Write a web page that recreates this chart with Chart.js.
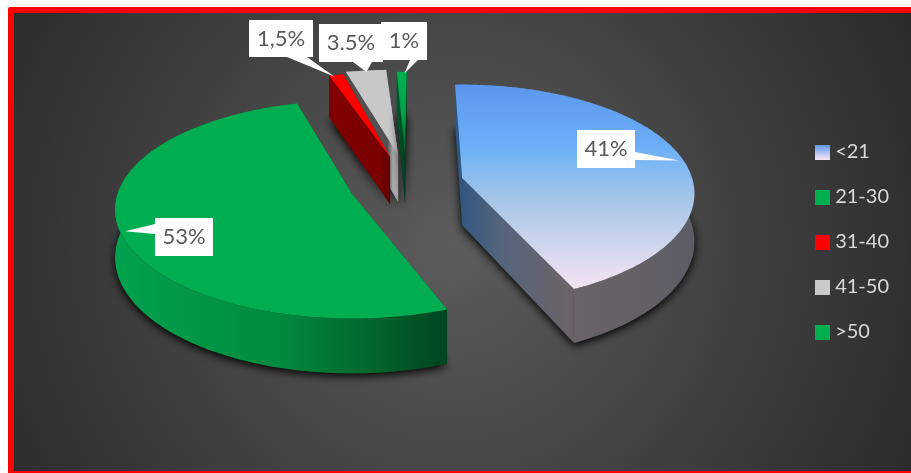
<!DOCTYPE html>
<html>
<head>
<meta charset="utf-8">
<script src="https://cdn.jsdelivr.net/npm/chart.js@4"></script>
<style>
    html, body { margin: 0; padding: 0; background: #fff; overflow: hidden; }
    #frame {
        position: absolute; left: 8px; top: 7px; width: 960px; height: 470px;
        box-sizing: border-box; border: 6px solid #ff0000; border-radius: 2px;
        background: radial-gradient(circle 520px at 437px 235px, #5c5c5c 0%, #2a2a2a 100%);
    }
    #chart-ages { position: absolute; left: 0; top: 0; }
</style>
</head>
<body>
<div id="frame"></div>
<canvas id="chart-ages" width="911" height="473"></canvas>
<script>
const ageGroups = ['<21', '21-30', '31-40', '41-50', '>50'];
const shares = [41, 53, 1.5, 3.5, 1];
const shareLabels = ['41%', '53%', '1,5%', '3.5%', '1%'];

// tilt of the pie plane
const PERSPECTIVE = 0.14;
const SCALE_X = 0.99;
const SCALE_Y = 0.455;
const THICKNESS = 47;
const WARP_COS = 7.5;
const WARP_SIN = -8.35;

// explode distance of each slice from the pie centre, its size and small turn
const explode = [[65, -64], [-45, -48], [-7, -85], [1, -87], [8, -85]];
const sliceScale = [[1.01, 1.02], [1.03, 1.02], [0.92, 0.92], [1.1, 0.92], [0.92, 0.92]];
const sliceTurn = [-2, 2.5, -1, 0, 0.5];
const drawOrder = [3, 2, 4, 0, 1];

const topColors = [
    [[0, '#5b97ee'], [0.31, '#6cb0f7'], [0.56, '#a5c6e8'], [1, '#f6e4f2']],
    [[0, '#00ad50'], [1, '#00ad50']],
    [[0, '#ff0000'], [1, '#ff0000']],
    [[0, '#c8c8c8'], [1, '#c8c8c8']],
    [[0, '#00b050'], [0.5, '#00a048'], [1, '#0a4a2a']]
];
const wallColors = [
    [[0, '#2e5582'], [0.2, '#56657c'], [0.48, '#6b6367'], [1, '#5d5d66']],
    [[0, '#00a24d'], [0.5, '#008a3e'], [0.75, '#00692f'], [1, '#00451e']],
    [[0, '#800000'], [0.85, '#7a0000'], [1, '#5c0000']],
    [[0, '#505050'], [0.8, '#525252'], [0.9, '#a8a8a8'], [1, '#a8a8a8']],
    [[0, '#00592a'], [1, '#003a1c']]
];
const legendSwatches = [
    [[0, '#5b97ee'], [1, '#f6e4f2']],
    [[0, '#00b050'], [1, '#00b050']],
    [[0, '#ff0000'], [1, '#ff0000']],
    [[0, '#c9c9c9'], [1, '#c9c9c9']],
    [[0, '#00b050'], [1, '#00b050']]
];

// white value boxes and the base of their pointers
const callouts = [
    { box: [577, 130, 58, 38], base: [635, 152, 635, 160], nudge: 10 },
    { box: [155, 218, 58, 38], base: [155, 224, 155, 234], nudge: -14 },
    { box: [249, 20, 64, 37], base: [287, 57, 307, 57], nudge: -1 },
    { box: [319, 24, 64, 38], base: [353, 62, 372, 62], nudge: 0 },
    { box: [381, 22, 46, 38], base: [410, 60, 418, 60], nudge: 1 }
];

function fillStops(gradient, stops) {
    stops.forEach(stop => gradient.addColorStop(stop[0], stop[1]));
    return gradient;
}

function swatch(stops) {
    const canvas = document.createElement('canvas');
    canvas.width = 15;
    canvas.height = 15;
    const swatchCtx = canvas.getContext('2d');
    swatchCtx.fillStyle = fillStops(swatchCtx.createLinearGradient(0, 0, 0, 15), stops);
    swatchCtx.fillRect(0, 0, 15, 15);
    return canvas;
}

// slice point on the tilted plane, theta in degrees clockwise from the top
function project(arc, index, theta, radius) {
    const rad = theta * Math.PI / 180;
    const warp = WARP_COS * (1 - Math.cos(rad)) + WARP_SIN * Math.sin(rad) + sliceTurn[index];
    const warped = rad + warp * Math.PI / 180;
    const u = radius * sliceScale[index][0] * Math.sin(warped);
    const v = -radius * sliceScale[index][1] * Math.cos(warped);
    const w = 1 - PERSPECTIVE * v;
    return {
        x: arc.x + explode[index][0] + arc.outerRadius * SCALE_X * u / w,
        y: arc.y + explode[index][1] + arc.outerRadius * SCALE_Y * v / w,
        depth: THICKNESS / w
    };
}

function rimPoints(arc, index) {
    const start = arc.startAngle * 180 / Math.PI + 90;
    const end = arc.endAngle * 180 / Math.PI + 90;
    const steps = Math.max(4, Math.ceil(end - start));
    const points = [];
    for (let i = 0; i <= steps; i++) {
        points.push(project(arc, index, start + (end - start) * i / steps, 1));
    }
    return points;
}

function tracePath(ctx, points, drop) {
    ctx.beginPath();
    points.forEach((p, i) => {
        const y = drop ? p.y + p.depth : p.y;
        if (i === 0) ctx.moveTo(p.x, y); else ctx.lineTo(p.x, y);
    });
    ctx.closePath();
}

// top edge followed by the same edge pushed down, as one band
function fillWall(ctx, edge) {
    ctx.beginPath();
    edge.forEach((p, i) => {
        if (i === 0) ctx.moveTo(p.x, p.y); else ctx.lineTo(p.x, p.y);
    });
    edge.slice().reverse().forEach(p => ctx.lineTo(p.x, p.y + p.depth));
    ctx.closePath();
    ctx.fill();
}

function drawSlice(ctx, arc, index) {
    const rim = rimPoints(arc, index);
    const apex = project(arc, index, 0, 0);
    const points = [apex].concat(rim);
    const xs = points.map(p => p.x);
    const ys = points.map(p => p.y);

    // soft shadow under the base
    ctx.save();
    ctx.shadowColor = 'rgba(0,0,0,0.95)';
    ctx.shadowBlur = 9;
    ctx.shadowOffsetX = 0;
    ctx.shadowOffsetY = 3;
    ctx.fillStyle = '#222';
    tracePath(ctx, points, true);
    ctx.fill();
    ctx.restore();

    ctx.fillStyle = fillStops(ctx.createLinearGradient(Math.min(...xs), 0, Math.max(...xs), 0), wallColors[index]);
    fillWall(ctx, [apex, rim[0]]);
    fillWall(ctx, [apex, rim[rim.length - 1]]);
    fillWall(ctx, rim);

    ctx.fillStyle = fillStops(ctx.createLinearGradient(0, Math.min(...ys), 0, Math.max(...ys)), topColors[index]);
    tracePath(ctx, points, false);
    ctx.fill();
}

function drawCallout(ctx, arc, index) {
    const item = callouts[index];
    const mid = (arc.startAngle + arc.endAngle) / 2 * 180 / Math.PI + 90;
    const tip = project(arc, index, mid + item.nudge, 0.98);
    const [x, y, w, h] = item.box;

    ctx.fillStyle = '#ffffff';
    ctx.beginPath();
    ctx.moveTo(item.base[0], item.base[1]);
    ctx.lineTo(tip.x, tip.y);
    ctx.lineTo(item.base[2], item.base[3]);
    ctx.closePath();
    ctx.fill();
    ctx.fillRect(x, y, w, h);

    ctx.fillStyle = '#595959';
    ctx.font = '22px Lato';
    ctx.textAlign = 'center';
    ctx.textBaseline = 'middle';
    ctx.fillText(shareLabels[index], x + w / 2, y + h / 2);
}

const tiltedPie = {
    id: 'tiltedPie',
    beforeDatasetsDraw(chart) {
        const ctx = chart.ctx;
        const arcs = chart.getDatasetMeta(0).data;
        ctx.save();
        drawOrder.forEach(i => drawSlice(ctx, arcs[i], i));
        drawOrder.forEach(i => drawCallout(ctx, arcs[i], i));
        ctx.restore();
        return false;
    }
};

new Chart(document.querySelector('#chart-ages'), {
    type: 'pie',
    data: {
        labels: ageGroups,
        datasets: [{ data: shares }]
    },
    options: {
        responsive: false,
        animation: false,
        events: [],
        layout: { padding: { top: 11, right: 12, bottom: 0, left: 0 } },
        plugins: {
            tooltip: { enabled: false },
            legend: {
                position: 'right',
                labels: {
                    usePointStyle: true,
                    pointStyleWidth: 6,
                    padding: 25,
                    color: '#d9d9d9',
                    font: { family: 'Lato', size: 20 },
                    generateLabels: () => ageGroups.map((label, i) => ({
                        text: label,
                        pointStyle: swatch(legendSwatches[i]),
                        fontColor: '#d9d9d9',
                        index: i
                    }))
                }
            }
        }
    },
    plugins: [tiltedPie]
});
</script>
</body>
</html>
